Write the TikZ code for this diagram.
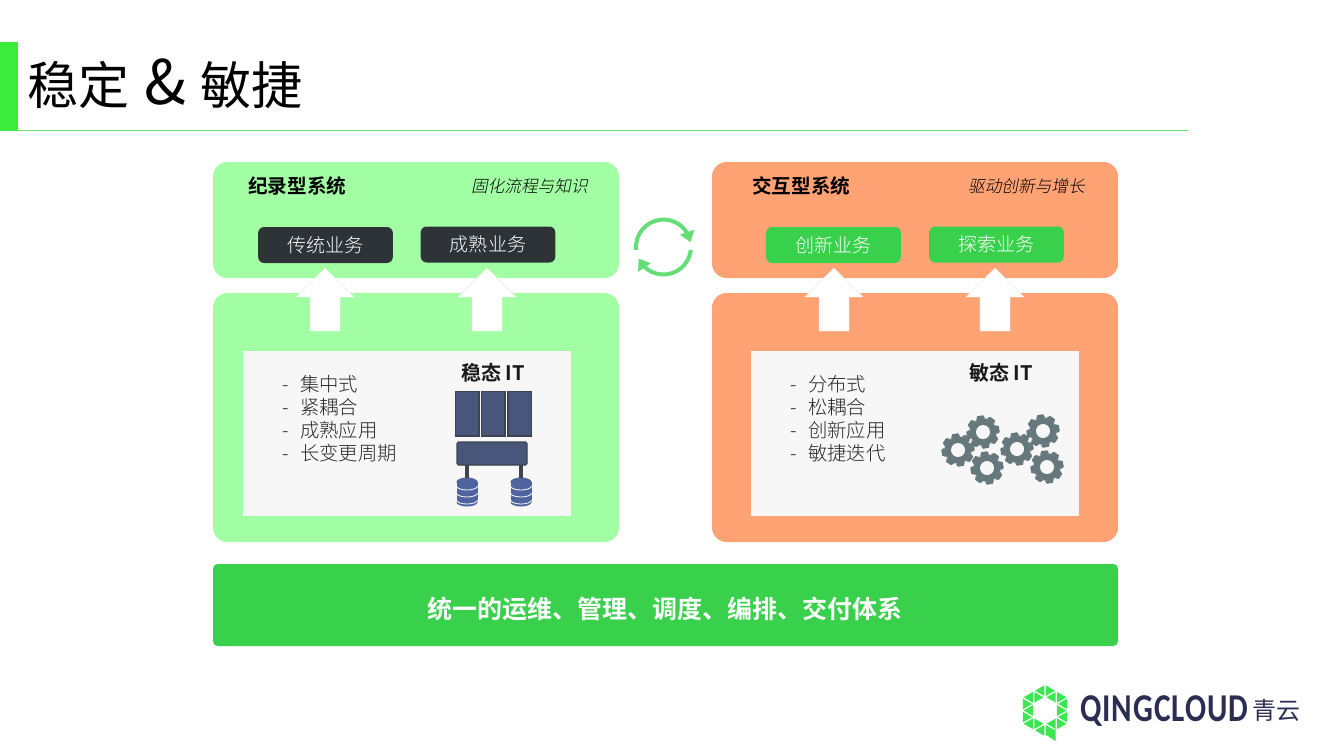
\documentclass[tikz,border=0pt]{standalone}
\usepackage{fontspec}
\setmainfont{Noto Sans CJK SC}[UprightFont={* Light},BoldFont={* Bold}]
\newfontfamily\slantcjk[UprightFont={* Light},FakeSlant=0.2]{Noto Sans CJK SC}
\newfontfamily\regularcjk{Noto Sans CJK SC}
\newfontfamily\logofont{Carlito}
\usetikzlibrary{arrows.meta,bending}
\definecolor{lightgreen}{HTML}{A3FFA3}
\definecolor{softorange}{HTML}{FFA274}
\definecolor{solidgreen}{HTML}{39D04B}
\definecolor{darkbox}{HTML}{2E3338}
\definecolor{stripegreen}{HTML}{3CEB3C}
\definecolor{rulegreen}{HTML}{66E26E}
\definecolor{cyclegreen}{HTML}{66DE78}
\definecolor{paper}{HTML}{F7F7F7}
\definecolor{serverblue}{HTML}{47567A}
\definecolor{serveredge}{HTML}{3D444E}
\definecolor{diskblue}{HTML}{4F639F}
\definecolor{gearslate}{HTML}{66787C}
\definecolor{logonavy}{HTML}{2B2D52}
\definecolor{logogreen}{HTML}{3CE650}
\newcommand{\fsz}[2]{\fontsize{#1}{#2}\selectfont}
\tikzset{
  x=0.75pt,y=-0.75pt,
  panel/.style={fill=#1,draw=none,rounded corners=11pt},
  paperbox/.style={fill=paper,draw=none},
  bizbox/.style={fill=#1,draw=none,rounded corners=4.5pt,text=white,inner sep=0pt,
    minimum width=101pt,minimum height=27pt,font=\fsz{14.3}{17}},
  headtext/.style={font=\fsz{14.7}{17}\bfseries,text=black,inner sep=0pt,anchor=west},
  slanttext/.style={font=\fsz{12.5}{15}\slantcjk,text=black,inner sep=0pt,anchor=east},
  ittitle/.style={font=\fsz{15}{18}\bfseries,text=black!90,inner sep=0pt},
  listtext/.style={font=\fsz{14.5}{17.25},text=black!85,inner sep=0pt,anchor=west,align=left},
  uparrow/.style={fill=white,draw=black!8,line width=0.3pt},
  srv/.style={fill=serverblue,draw=serveredge,line width=0.8pt},
  srvlink/.style={draw=serveredge,line width=2.5pt},
  gearfill/.style={fill=gearslate,draw=none},
  logotri/.style={fill=logogreen,draw=none},
  cyclearc/.style={draw=cyclegreen,line width=3pt,-{Triangle[length=8pt,width=11pt,flex=0.8]}},
}
\newcommand{\uparrowat}[1]{%
  \path[uparrow] (#1,268) -- (#1+29,297) -- (#1+15,297) -- (#1+15,331)
    -- (#1-15,331) -- (#1-15,297) -- (#1-29,297) -- cycle;}
\newcommand{\diskat}[3]{%
  \node[inner sep=0pt,minimum size=0pt] (#3) at (#1,#2) {};
  \fill[diskblue] (#1-10.5,#2+4) rectangle (#1+10.5,#2+24);
  \fill[diskblue] (#1,#2+4) ellipse [x radius=10.5,y radius=4.5];
  \fill[diskblue] (#1,#2+24) ellipse [x radius=10.5,y radius=4.5];
  \foreach \dy in {8,15,22}{
    \draw[white,line width=0.6pt] (#1-10.5,#2+\dy) arc[start angle=180,end angle=360,x radius=7.875pt,y radius=3pt];
  }}
\newcommand{\gearat}[2]{%
  \foreach \a in {0,45,...,315}{
    \fill[gearfill,shift={(#1,#2)},rotate=\a+10] (-4.6,-13) -- (-3,-16.5) -- (3,-16.5) -- (4.6,-13) -- cycle;
  }
  \fill[gearfill] (#1,#2) circle [radius=13.5];
  \fill[paper] (#1,#2) circle [radius=7];}
\begin{document}
\begin{tikzpicture}
\useasboundingbox (0,0) rectangle (1333,750);
\fill[white] (0,0) rectangle (1333,750);
% title
\fill[stripegreen] (0,42) rectangle (18,130.5);
\coordinate (ruleL) at (18,130.5);
\coordinate (ruleR) at (1188,130.5);
\draw[rulegreen,line width=1pt] (ruleL) -- (ruleR);
\node[inner sep=0pt,anchor=west,font=\fsz{38.3}{44}\regularcjk,text=black] (title) at (27,84)
  {稳定\hspace{11pt}{\fontsize{46}{46}\selectfont\&}\hspace{11pt}敏捷};
% panels
\path[panel=lightgreen] (213,162) rectangle (619,278);
\path[panel=lightgreen] (213,293) rectangle (619,542);
\path[panel=softorange] (712,162) rectangle (1118,278);
\path[panel=softorange] (712,293) rectangle (1118,542);
\path[fill=solidgreen,rounded corners=3.5pt] (213,564) rectangle (1118,646);
\node[font=\fsz{18.75}{22}\bfseries,text=white,inner sep=0pt] (bar) at (665,609)
  {统一的运维、管理、调度、编排、交付体系};
% headings
\node[headtext] (recH) at (248,186) {纪录型系统};
\node[slanttext] (recS) at (588,186) {固化流程与知识};
\node[headtext] (engH) at (752,186) {交互型系统};
\node[slanttext] (engS) at (1085,186) {驱动创新与增长};
% business boxes
\node[bizbox=darkbox] (b1) at (325.5,245) {传统业务};
\node[bizbox=darkbox] (b2) at (488,244.5) {成熟业务};
\node[bizbox=solidgreen] (b3) at (833.5,245) {创新业务};
\node[bizbox=solidgreen] (b4) at (996.5,244.5) {探索业务};
% arrows
\uparrowat{325}\uparrowat{487}\uparrowat{834}\uparrowat{995}
% paper boxes
\path[paperbox] (243,351) rectangle (571,516);
\path[paperbox] (751,351) rectangle (1079,516);
\node[listtext] (listL) at (282,419) {-\hspace{8.5pt}集中式\\-\hspace{8.5pt}紧耦合\\-\hspace{8.5pt}成熟应用\\-\hspace{8.5pt}长变更周期};
\node[listtext] (listR) at (790,419) {-\hspace{8.5pt}分布式\\-\hspace{8.5pt}松耦合\\-\hspace{8.5pt}创新应用\\-\hspace{8.5pt}敏捷迭代};
\node[ittitle] (stable) at (493,373) {稳态 IT};
\node[ittitle] (agile) at (1001,373) {敏态 IT};
% servers
\path[srv] (455.5,391.5) rectangle (479,436);
\path[srv] (481.5,391.5) rectangle (505,436);
\path[srv] (508,391.5) rectangle (531.5,436);
\path[srv,rounded corners=1pt] (457,442) rectangle (527,465);
\coordinate (busL) at (467,465);\coordinate (busR) at (521,465);
\diskat{467}{478}{d1}\diskat{521}{478}{d2}
\draw[srvlink] (busL) -- (d1);
\draw[srvlink] (busR) -- (d2);
% gears
\gearat{958}{450}\gearat{983}{432}\gearat{987}{468}
\gearat{1017}{449}\gearat{1043}{431}\gearat{1047}{467}
% cycle
\draw[cyclearc] (636.15,249.9) arc[start angle=186,end angle=10,radius=20.6pt];
\draw[cyclearc] (690.8,249.9) arc[start angle=-6,end angle=-155,radius=20.6pt];
% logo
\foreach \k in {0,60,...,300}{
  \begin{scope}[shift={(1045,710.5)},rotate=\k,scale=1.15]
    \fill[logotri] (0.66,-21.85) -- (8.63,-17.25) -- (0.66,-12.65) -- cycle;
    \fill[logotri] (9.3,-16.1) -- (9.3,-6.9) -- (1.33,-11.5) -- cycle;
    \fill[logotri] (10.62,-16.1) -- (18.59,-11.5) -- (10.62,-6.9) -- cycle;
  \end{scope}
}
\fill[logotri] (1045,734) -- (1055.5,729) -- (1055.5,741) -- cycle;
\node[inner sep=0pt,anchor=west,text=logonavy] (logoT) at (1080,711)
  {\resizebox{126pt}{!}{\logofont\bfseries\addfontfeature{LetterSpace=3}\scalebox{0.95}[1.2]{QINGCLOUD}}};
\node[inner sep=0pt,anchor=west,text=logonavy,font=\fsz{18}{20}\regularcjk] (logoC) at (1252,710) {青云};
\end{tikzpicture}
\end{document}
